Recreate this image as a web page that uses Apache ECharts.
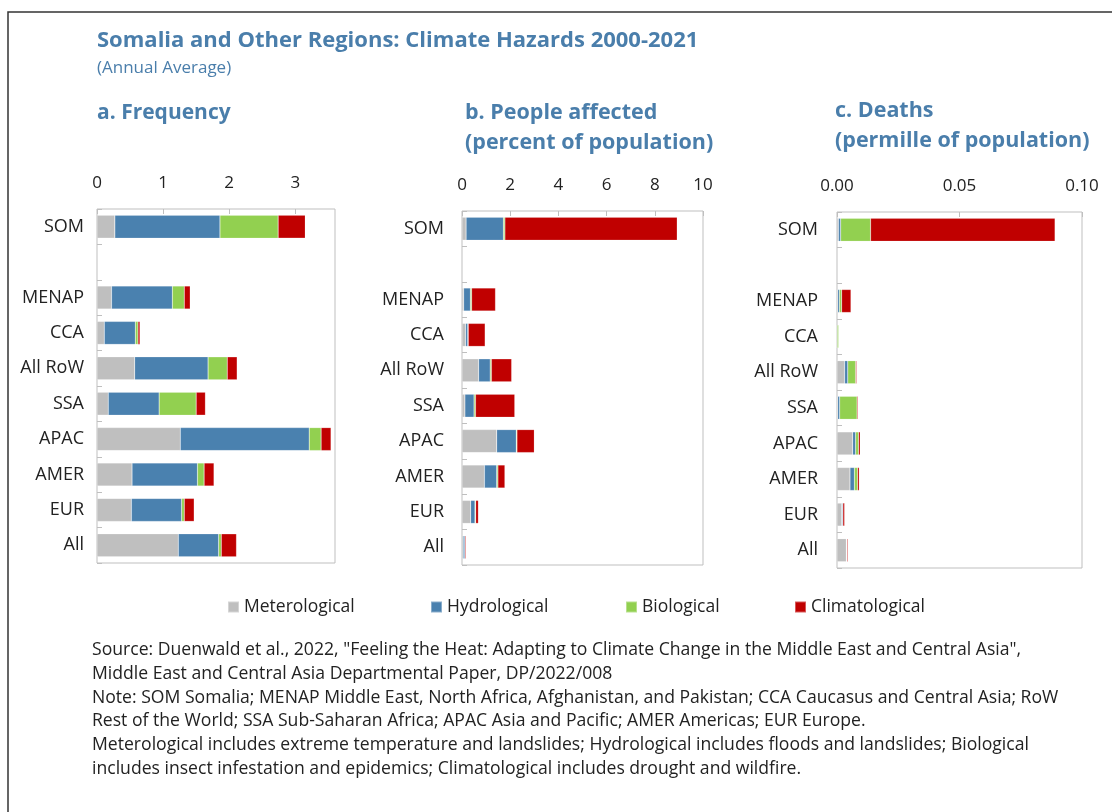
<!DOCTYPE html>
<html><head><meta charset="utf-8">
<script src="https://cdn.jsdelivr.net/npm/echarts@6/dist/echarts.min.js"></script>
<style>html,body{margin:0;padding:0;background:#fff}#c{width:1112px;height:812px}</style>
</head><body><div id="c"></div>
<script>
const categories = ['SOM', '', 'MENAP', 'CCA', 'All RoW', 'SSA', 'APAC', 'AMER', 'EUR', 'All'];
const seriesNames = ['Meterological', 'Hydrological', 'Biological', 'Climatological'];
const colors = ['#BFBFBF', '#4A81AF', '#92D050', '#C00000'];

// a. Frequency
const freqMet = [0.27, null, 0.22, 0.11, 0.57, 0.17, 1.26, 0.53, 0.52, 1.23];
const freqHyd = [1.59, null, 0.92, 0.47, 1.11, 0.77, 1.95, 0.99, 0.76, 0.61];
const freqBio = [0.88, null, 0.18, 0.04, 0.29, 0.56, 0.18, 0.10, 0.04, 0.04];
const freqCli = [0.41, null, 0.09, 0.03, 0.15, 0.14, 0.15, 0.15, 0.15, 0.23];
// b. People affected (percent of population)
const pplMet = [0.17, null, 0.07, 0.15, 0.69, 0.12, 1.44, 0.93, 0.36, 0.05];
const pplHyd = [1.55, null, 0.28, 0.09, 0.48, 0.38, 0.81, 0.51, 0.18, 0.07];
const pplBio = [0.06, null, 0.05, 0.02, 0.05, 0.06, 0.03, 0.05, 0.03, 0.01];
const pplCli = [7.15, null, 0.99, 0.70, 0.84, 1.63, 0.72, 0.29, 0.11, 0.04];
// c. Deaths (permille of population)
const dthMet = [0.0006, null, 0.0003, 0.0001, 0.0031, 0.0003, 0.0064, 0.0053, 0.0019, 0.0038];
const dthHyd = [0.0009, null, 0.0007, 0.0000, 0.0013, 0.0008, 0.0012, 0.0018, 0.0004, 0.0001];
const dthBio = [0.0122, null, 0.0009, 0.0006, 0.0032, 0.0071, 0.0012, 0.0013, 0.0001, 0.0001];
const dthCli = [0.0753, null, 0.0038, 0.0000, 0.0004, 0.0004, 0.0007, 0.0007, 0.0007, 0.0004];

const xTicksA = [0, 1, 2, 3];
const xTicksB = [0, 2, 4, 6, 8, 10];
const xTicksC = ['0.00', '0.05', '0.10'];

const panels = [
  {data: [freqMet, freqHyd, freqBio, freqCli], max: 3.6, interval: 1, fmt: v => String(v), grid: {left: 97, top: 209, width: 238, height: 354}, lm: 13},
  {data: [pplMet, pplHyd, pplBio, pplCli], max: 10, interval: 2, fmt: v => String(v), grid: {left: 462, top: 211, width: 241, height: 354}, lm: 18},
  {data: [dthMet, dthHyd, dthBio, dthCli], max: 0.1, interval: 0.05, fmt: v => v.toFixed(2), grid: {left: 837, top: 212, width: 245, height: 356}, lm: 19}
];

const FONT = 'Open Sans';
const TXT = '#222';
const BLUE = '#4A7EAB';

const grids = [], xAxes = [], yAxes = [], series = [];
panels.forEach((p, i) => {
  grids.push(Object.assign({show: true, borderColor: '#BFBFBF', borderWidth: 1, containLabel: false}, p.grid));
  xAxes.push({
    type: 'value', gridIndex: i, position: 'top', min: 0, max: p.max, interval: p.interval,
    axisLine: {show: false}, splitLine: {show: false},
    axisTick: {show: true, inside: true, length: 5, lineStyle: {color: '#BFBFBF'}},
    axisLabel: {showMaxLabel: i !== 0, fontSize: 17, color: TXT, fontFamily: FONT, margin: 17, formatter: p.fmt}
  });
  yAxes.push({
    type: 'category', gridIndex: i, data: categories, inverse: true,
    axisLine: {show: false},
    axisTick: {show: true, inside: true, length: 5, lineStyle: {color: '#BFBFBF'}},
    axisLabel: {fontSize: 18, color: TXT, fontFamily: FONT, margin: p.lm, interval: 0}
  });
  p.data.forEach((arr, k) => {
    series.push({
      type: 'bar', name: seriesNames[k], xAxisIndex: i, yAxisIndex: i, stack: 'p' + i,
      data: arr, barWidth: 23, itemStyle: {color: colors[k], borderColor: 'rgba(255,255,255,0.35)', borderWidth: 0.5},
      emphasis: {disabled: true}, animation: false
    });
  });
});

const legendLefts = [227, 430, 625, 794];
const legends = seriesNames.map((n, k) => ({
  data: [n], left: legendLefts[k], top: 598, padding: 0, icon: 'rect', itemWidth: 11, itemHeight: 11,
  textStyle: {fontSize: 17.5, color: TXT, fontFamily: FONT}, selectedMode: false
}));

const noteLines = [
  'Source: Duenwald et al., 2022, "Feeling the Heat: Adapting to Climate Change in the Middle East and Central Asia",',
  'Middle East and Central Asia Departmental Paper, DP/2022/008',
  'Note: SOM Somalia; MENAP Middle East, North Africa, Afghanistan, and Pakistan; CCA Caucasus and Central Asia; RoW',
  'Rest of the World; SSA Sub-Saharan Africa; APAC Asia and Pacific; AMER Americas; EUR Europe.',
  'Meterological includes extreme temperature and landslides; Hydrological includes floods and landslides; Biological',
  'includes insect infestation and epidemics; Climatological includes drought and wildfire.'
];

function txt(text, x, y, size, weight, color) {
  return {type: 'text', x: x, y: y, silent: true,
    style: {text: text, fontSize: size, fontWeight: weight, fontFamily: FONT, fill: color, verticalAlign: 'middle', align: 'left'}};
}

const graphics = [
  {type: 'rect', shape: {x: 8, y: 12, width: 1200, height: 900}, style: {fill: 'none', stroke: '#333', lineWidth: 1.5}, silent: true},
  txt('Somalia and Other Regions: Climate Hazards 2000-2021', 97, 41, 22, 'bold', BLUE),
  txt('(Annual Average)', 97, 68, 17, 'normal', BLUE),
  txt('a. Frequency', 97, 113, 21, 'bold', BLUE),
  txt('b. People affected', 465, 113, 21.5, 'bold', BLUE),
  txt('(percent of population)', 465, 143, 21.5, 'bold', BLUE),
  txt('c. Deaths', 835, 111, 21.5, 'bold', BLUE),
  txt('(permille of population)', 835, 141, 21.5, 'bold', BLUE)
];
noteLines.forEach((l, i) => graphics.push(txt(l, 92, 650 + i * 23.8, 17.6, 'normal', TXT)));

const chart = echarts.init(document.getElementById('c'), null, {renderer: 'canvas'});
chart.setOption({
  animation: false,
  grid: grids, xAxis: xAxes, yAxis: yAxes, series: series,
  legend: legends, graphic: graphics
});
</script></body></html>
